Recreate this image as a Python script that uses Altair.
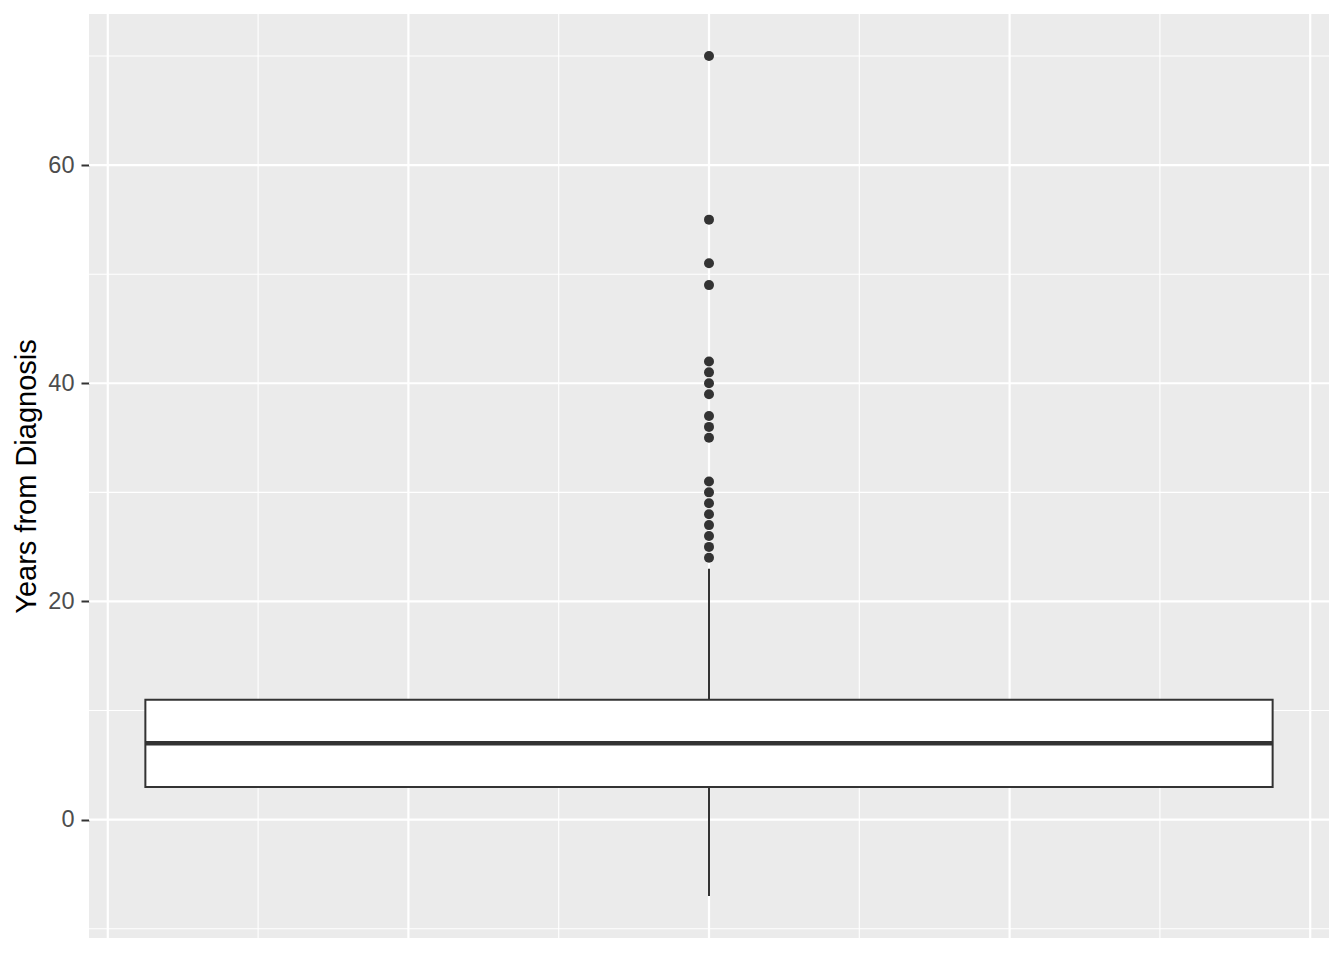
import altair as alt
import pandas as pd

# Box statistics (single group at x = 0)
group_x = [0.0]
box_half_width = [0.375]
q1 = [3]
median = [7]
q3 = [11]
whisker_low = [-7]
whisker_high = [23]
outliers = [24, 25, 26, 27, 28, 29, 30, 31, 35, 36, 37, 39, 40, 41, 42, 49, 51, 55, 70]

# Axis / grid values
y_major = [0, 20, 40, 60]
y_minor = [-10, 10, 30, 50, 70]
x_major = [-0.4, -0.2, 0.0, 0.2, 0.4]
x_minor = [-0.3, -0.1, 0.1, 0.3]

XDOM = [-0.4125, 0.4125]
YDOM = [-10.85, 73.85]

xs = alt.Scale(domain=XDOM, nice=False, zero=False)
ys = alt.Scale(domain=YDOM, nice=False, zero=False)

box_df = pd.DataFrame({
    "x": group_x,
    "xlo": [g - w for g, w in zip(group_x, box_half_width)],
    "xhi": [g + w for g, w in zip(group_x, box_half_width)],
    "q1": q1, "median": median, "q3": q3,
    "lo": whisker_low, "hi": whisker_high,
})
out_df = pd.DataFrame({"x": group_x * len(outliers), "y": outliers})

yaxis = alt.Axis(
    values=y_major, grid=False, domain=False,
    tickColor="#333333", tickWidth=2, tickSize=8,
    labelFont="Liberation Sans", labelFontSize=23.5, labelColor="#4D4D4D",
    labelPadding=7,
    title="Years from Diagnosis", titleFont="Liberation Sans",
    titleFontSize=29, titleFontWeight="normal", titleColor="#000000",
    titlePadding=6,
)

hmin = alt.Chart(pd.DataFrame({"v": y_minor})).mark_rule(color="white", strokeWidth=1.1).encode(
    y=alt.Y("v:Q", scale=ys, axis=yaxis))
hmaj = alt.Chart(pd.DataFrame({"v": y_major})).mark_rule(color="white", strokeWidth=2.2).encode(
    y=alt.Y("v:Q", scale=ys))
vmin = alt.Chart(pd.DataFrame({"v": x_minor})).mark_rule(color="white", strokeWidth=1.1).encode(
    x=alt.X("v:Q", scale=xs, axis=None))
vmaj = alt.Chart(pd.DataFrame({"v": x_major})).mark_rule(color="white", strokeWidth=2.2).encode(
    x=alt.X("v:Q", scale=xs))

base = alt.Chart(box_df)
whisk_up = base.mark_rule(color="#333333", strokeWidth=2).encode(
    x=alt.X("x:Q", scale=xs), y=alt.Y("q3:Q", scale=ys), y2="hi:Q")
whisk_dn = base.mark_rule(color="#333333", strokeWidth=2).encode(
    x=alt.X("x:Q", scale=xs), y=alt.Y("lo:Q", scale=ys), y2="q1:Q")
box = base.mark_rect(fill="white", stroke="#333333", strokeWidth=2).encode(
    x=alt.X("xlo:Q", scale=xs), x2="xhi:Q",
    y=alt.Y("q1:Q", scale=ys), y2="q3:Q")
med = base.mark_rule(color="#333333", strokeWidth=4.4).encode(
    x=alt.X("xlo:Q", scale=xs), x2="xhi:Q", y=alt.Y("median:Q", scale=ys))
pts = alt.Chart(out_df).mark_circle(color="#333333", size=100, opacity=1).encode(
    x=alt.X("x:Q", scale=xs), y=alt.Y("y:Q", scale=ys))

chart = alt.layer(hmin, hmaj, vmin, vmaj, whisk_up, whisk_dn, box, med, pts).properties(
    width=1240, height=924,
    autosize=alt.AutoSizeParams(type="none"),
    padding={"left": 81, "top": 6, "right": 7, "bottom": 14},
    background="white",
).configure_view(fill="#EBEBEB", stroke=None)

chart.save("out.html", embed_options={"renderer": "svg", "actions": False})
